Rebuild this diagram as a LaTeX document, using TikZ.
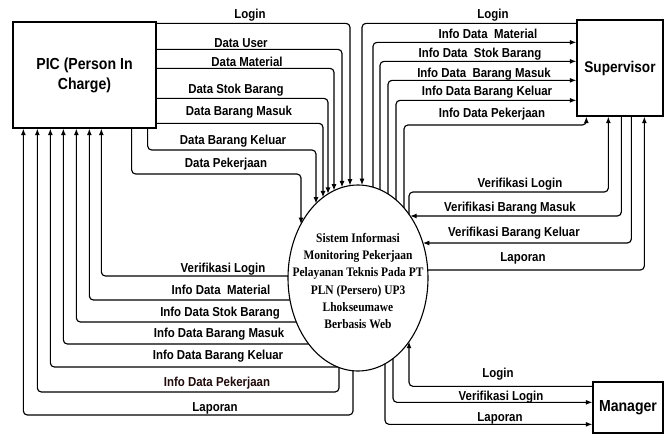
\documentclass[tikz,border=0pt]{standalone}
\usepackage{fontspec}
\setmainfont{Liberation Serif}
\newfontfamily\lblfont[FakeStretch=0.88]{Liberation Sans}
\newfontfamily\sysfont[FakeStretch=0.88]{Liberation Serif}
\usetikzlibrary{arrows.meta,shapes.geometric}
% points on the system ellipse: centre (358,278), radii 70 x 93
\newcommand\EllT[2]{\coordinate (#1) at ({#2},{278-93*sqrt(1-((#2-358)/70)*((#2-358)/70))});}
\newcommand\EllB[2]{\coordinate (#1) at ({#2},{278+93*sqrt(1-((#2-358)/70)*((#2-358)/70))});}
\newcommand\EllL[2]{\coordinate (#1) at ({358-70*sqrt(1-((#2-278)/93)*((#2-278)/93))},{#2});}
\newcommand\EllR[2]{\coordinate (#1) at ({358+70*sqrt(1-((#2-278)/93)*((#2-278)/93))},{#2});}
\begin{document}
\begin{tikzpicture}[x=1pt,y=-1pt,
  flow/.style={line width=1.15pt, rounded corners=4pt, -{Latex[length=6.5pt,width=5pt]}},
  lbl/.style={font=\lblfont\bfseries\fontsize{13}{15}\selectfont, inner sep=0pt, text height=9.3pt, text depth=0pt},
  ent/.style={draw, line width=1.3pt, font=\lblfont\bfseries\fontsize{16}{20}\selectfont, align=center, inner sep=0pt},
  sysst/.style={draw, ellipse, line width=1.1pt, minimum width=140pt, minimum height=186pt, inner sep=0pt}]
\fill[white] (0,0) rectangle (670,436);
\useasboundingbox (0,0) rectangle (670,436);

% entities
\node[ent, minimum width=143pt, minimum height=106pt] (pic) at (84.5,75) {PIC (Person In\\Charge)};
\node[ent, minimum width=86pt, minimum height=96pt, font=\lblfont\bfseries\fontsize{15.5}{19}\selectfont] (sup) at (620,68) {Supervisor};
\node[ent, minimum width=70pt, minimum height=51pt] (man) at (628,407.5) {Manager};

% process
\node[sysst] (sis) at (358,278) {};
\node[font=\sysfont\bfseries\fontsize{13}{17.3}\selectfont, align=center, inner sep=0pt] (systxt) at (358,281)
  {Sistem Informasi\\Monitoring Pekerjaan\\Pelayanan Teknis Pada PT\\PLN (Persero) UP3\\Lhokseumawe\\Berbasis Web};

% anchor points on the boxes
\coordinate (pb1) at ([xshift=11pt]pic.south west);
\coordinate (pb2) at ([xshift=25pt]pic.south west);
\coordinate (pb3) at ([xshift=38pt]pic.south west);
\coordinate (pb4) at ([xshift=51pt]pic.south west);
\coordinate (pb5) at ([xshift=64pt]pic.south west);
\coordinate (pb6) at ([xshift=77pt]pic.south west);
\coordinate (pb7) at ([xshift=89pt]pic.south west);
\coordinate (pk1) at ([xshift=-25pt]pic.south east);
\coordinate (pk2) at ([xshift=-9pt]pic.south east);
\coordinate (sb1) at ([xshift=10pt]sup.south west);
\coordinate (sb2) at ([xshift=32pt]sup.south west);
\coordinate (sb3) at ([xshift=45pt]sup.south west);
\coordinate (sb4) at ([xshift=55pt]sup.south west);
\coordinate (sb5) at ([xshift=68pt]sup.south west);

% points on the ellipse
\EllT{t1}{350} \EllT{t2}{342} \EllT{t3}{334} \EllT{t4}{328} \EllT{t5}{323} \EllT{t6}{316} \EllT{t7}{301}
\EllL{l8}{276} \EllL{l9}{300} \EllL{l10}{322} \EllL{l11}{344} \EllL{l12}{367}
\EllB{b13}{339} \EllB{b14}{353}
\EllT{s15}{362} \EllT{s16}{373} \EllT{s17}{380} \EllT{s18}{388} \EllT{s19}{396} \EllT{s20}{404} \EllT{s21}{409}
\EllR{r22}{216} \EllR{r23}{243} \EllR{r24}{270}
\EllB{m25}{409} \EllB{m26}{393} \EllB{m27}{385}

% PIC -> system
\draw[flow] ([yshift=-2pt]pic.north east) -| (t1);
\draw[flow] ([yshift=-28pt]pic.north east) -| (t2);
\draw[flow] ([yshift=-47pt]pic.north east) -| (t3);
\draw[flow] ([yshift=-77pt]pic.north east) -| (t4);
\draw[flow] ([yshift=-102pt]pic.north east) -| (t5);
\draw[flow] (pk2) |- (t6 |- 0,150) -- (t6);
\draw[flow] (pk1) |- (t7 |- 0,174) -- (t7);

% system -> PIC
\draw[flow] (l8) -| (pb7);
\draw[flow] (l9) -| (pb6);
\draw[flow] (l10) -| (pb5);
\draw[flow] (l11) -| (pb4);
\draw[flow] (l12) -| (pb3);
\draw[flow] (b13) |- (pb2 |- 0,392) -- (pb2);
\draw[flow] (b14) |- (pb1 |- 0,415) -- (pb1);

% Supervisor <-> system
\draw[flow] ([yshift=-4pt]sup.north west) -| (s15);
\draw[flow] (s16) |- ([yshift=-23pt]sup.north west);
\draw[flow] (s17) |- ([yshift=-42pt]sup.north west);
\draw[flow] (s18) |- ([yshift=-61pt]sup.north west);
\draw[flow] (s19) |- ([yshift=-81pt]sup.north west);
\draw[flow] (s20) |- (sb1 |- 0,125) -- (sb1);
\draw[flow] (s21) |- (sb2 |- 0,192) -- (sb2);
\draw[flow] (sb3) |- (r22);
\draw[flow] (sb4) |- (r23);
\draw[flow] (r24) -| (sb5);

% Manager <-> system
\draw[flow] ([yshift=-5pt]man.north west) -| (m25);
\draw[flow] (m26) |- ([yshift=-21pt]man.north west);
\draw[flow] (m27) |- ([yshift=-43pt]man.north west);

% labels
\node[lbl] (a1) at (250,14) {Login};
\node[lbl] (a2) at (241,43) {Data User};
\node[lbl] (a3) at (247,62) {Data Material};
\node[lbl] (a4) at (236,89) {Data Stok Barang};
\node[lbl] (a5) at (239,111) {Data Barang Masuk};
\node[lbl] (a6) at (233,140) {Data Barang Keluar};
\node[lbl] (a7) at (226,163) {Data Pekerjaan};
\node[lbl] (a8) at (223,268) {Verifikasi Login};
\node[lbl] (a9) at (221,290) {Info Data\ \ Material};
\node[lbl] (a10) at (220,312) {Info Data Stok Barang};
\node[lbl] (a11) at (219,333) {Info Data Barang Masuk};
\node[lbl] (a12) at (218,355) {Info Data Barang Keluar};
\node[lbl, text={rgb,255:red,32;green,10;blue,10}] (a13) at (217,382) {Info Data Pekerjaan};
\node[lbl] (a14) at (215,407) {Laporan};
\node[lbl] (a15) at (493,14) {Login};
\node[lbl] (a16) at (488,34) {Info Data\ \ Material};
\node[lbl] (a17) at (480,53) {Info Data\ \ Stok Barang};
\node[lbl] (a18) at (484,73) {Info Data\ \ Barang Masuk};
\node[lbl] (a19) at (487,91) {Info Data Barang Keluar};
\node[lbl] (a20) at (492,113) {Info Data Pekerjaan};
\node[lbl] (a21) at (520,183) {Verifikasi Login};
\node[lbl] (a22) at (510,207) {Verifikasi Barang Masuk};
\node[lbl] (a23) at (514,232) {Verifikasi Barang Keluar};
\node[lbl] (a24) at (523,257) {Laporan};
\node[lbl] (a25) at (498,373) {Login};
\node[lbl] (a26) at (501,396) {Verifikasi Login};
\node[lbl] (a27) at (500,417) {Laporan};
\end{tikzpicture}
\end{document}
